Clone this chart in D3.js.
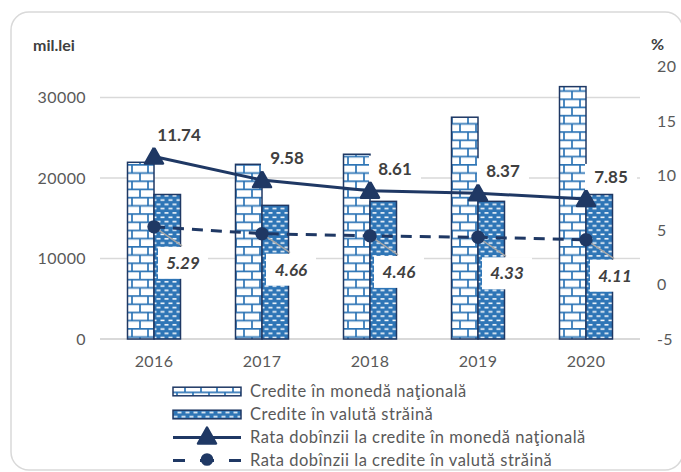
<!DOCTYPE html>
<html>
<head>
<meta charset="utf-8">
<script src="https://cdn.jsdelivr.net/npm/d3@7"></script>
<style>
  body { margin: 0; background: #fff; }
  svg { display: block; font-family: Lato, "Noto Sans", sans-serif; }
</style>
</head>
<body>
<svg width="681" height="472"></svg>
<script>
var years = ["2016", "2017", "2018", "2019", "2020"];
var crediteNational = [21950, 21700, 22950, 27550, 31350];
var crediteForeign = [17950, 16600, 17100, 17100, 17950];
var rateNational = [11.74, 9.58, 8.61, 8.37, 7.85];
var rateForeign = [5.29, 4.66, 4.46, 4.33, 4.11];
var leftTicks = [0, 10000, 20000, 30000];
var rightTicks = [-5, 0, 5, 10, 15, 20];
var legendLabels = [
  "Credite în monedă naţională",
  "Credite în valută străină",
  "Rata dobînzii la credite în monedă naţională",
  "Rata dobînzii la credite în valută străină"
];

var svg = d3.select("svg"),
    width = +svg.attr("width"),
    height = +svg.attr("height");

var navy = "#1f3864",
    blue = "#2e75b6",
    grid = "#d9d9d9",
    textCol = "#595959",
    labelCol = "#404040";

// patterns
var defs = svg.append("defs");
var brick = defs.append("pattern")
    .attr("id", "brick")
    .attr("patternUnits", "userSpaceOnUse")
    .attr("width", 16).attr("height", 16.4);
brick.append("rect").attr("width", 16).attr("height", 16.4).attr("fill", "#fff");
brick.append("path")
    .attr("d", "M0,0.8H16M0,9H16M4,0.8V9M12,9V17.2")
    .attr("stroke", blue).attr("stroke-width", 1.7);

var dots = defs.append("pattern")
    .attr("id", "dots")
    .attr("patternUnits", "userSpaceOnUse")
    .attr("width", 8).attr("height", 8.6);
dots.append("rect").attr("width", 8).attr("height", 8.6).attr("fill", blue);
dots.append("rect").attr("x", 0.5).attr("y", 1.5).attr("width", 4).attr("height", 1.5).attr("fill", "#fff");
dots.append("rect").attr("x", 4.5).attr("y", 5.8).attr("width", 3.5).attr("height", 1.5).attr("fill", "#fff");
dots.append("rect").attr("x", 0).attr("y", 5.8).attr("width", 0.5).attr("height", 1.5).attr("fill", "#fff");

// frame
svg.append("rect")
    .attr("x", 11).attr("y", 12)
    .attr("width", 672).attr("height", 458)
    .attr("rx", 18)
    .attr("fill", "#fff")
    .attr("stroke", grid).attr("stroke-width", 1.5);

var x = d3.scaleBand().domain(years).range([100, 640]);
var yL = d3.scaleLinear().domain([0, 30000]).range([339, 97.5]);
var yR = d3.scaleLinear().domain([-5, 20]).range([339, 66.5]);
var barW = 26.5;

// gridlines
svg.append("g").selectAll("line")
  .data(leftTicks)
  .enter().append("line")
    .attr("x1", 100).attr("x2", 640)
    .attr("y1", function(d) { return yL(d); })
    .attr("y2", function(d) { return yL(d); })
    .attr("stroke", grid)
    .attr("stroke-width", function(d) { return d == 0 ? 2 : 1.5; });

function styleTicks(ax) {
  ax.select(".domain").remove();
  ax.selectAll("text").attr("fill", textCol)
    .style("font-size", "16px").style("font-family", "Lato").style("letter-spacing", "0.4px");
}

// left axis
var axL = svg.append("g")
    .attr("transform", "translate(86,0)")
    .call(d3.axisLeft(yL).tickValues(leftTicks).tickSize(0).tickPadding(0).tickFormat(d3.format("d")));
styleTicks(axL);

// right axis
var axR = svg.append("g")
    .attr("transform", "translate(657,0)")
    .call(d3.axisRight(yR).tickValues(rightTicks).tickSize(0).tickPadding(0));
styleTicks(axR);
axR.selectAll("text").text(function(d) { return d < 0 ? "-" + Math.abs(d) : d; });

// x axis
var axX = svg.append("g")
    .attr("transform", "translate(0,356)")
    .call(d3.axisBottom(x).tickSize(0).tickPadding(0));
styleTicks(axX);

// unit titles
svg.append("text").attr("x", 33).attr("y", 51)
    .attr("fill", labelCol).style("font-size", "16px").style("font-weight", "bold")
    .text("mil.lei");
svg.append("text").attr("x", 651).attr("y", 50)
    .attr("fill", labelCol).style("font-size", "16px").style("font-weight", "bold")
    .text("%");

// bars
svg.append("g").selectAll("rect")
  .data(crediteNational)
  .enter().append("rect")
    .attr("x", function(d, i) { return x(years[i]) + x.bandwidth() / 2 - barW; })
    .attr("y", function(d) { return yL(d); })
    .attr("width", barW)
    .attr("height", function(d) { return yL(0) - yL(d); })
    .attr("fill", "url(#brick)")
    .attr("stroke", navy).attr("stroke-width", 1.5);

svg.append("g").selectAll("rect")
  .data(crediteForeign)
  .enter().append("rect")
    .attr("x", function(d, i) { return x(years[i]) + x.bandwidth() / 2; })
    .attr("y", function(d) { return yL(d); })
    .attr("width", barW)
    .attr("height", function(d) { return yL(0) - yL(d); })
    .attr("fill", "url(#dots)")
    .attr("stroke", navy).attr("stroke-width", 1.5);

var cx = function(d, i) { return x(years[i]) + x.bandwidth() / 2; };
var line = d3.line()
    .x(function(d, i) { return x(years[i]) + x.bandwidth() / 2; })
    .y(function(d) { return yR(d); });

// lines
svg.append("path").datum(rateNational)
    .attr("d", line).attr("fill", "none")
    .attr("stroke", navy).attr("stroke-width", 3);
svg.append("path").datum(rateForeign)
    .attr("d", line).attr("fill", "none")
    .attr("stroke", navy).attr("stroke-width", 3)
    .attr("stroke-dasharray", "11,8");

var tri = "M0,-9 L9,7 L-9,7 Z";

// leader lines for foreign labels
svg.append("g").selectAll("line")
  .data(rateForeign)
  .enter().append("line")
    .attr("x1", cx)
    .attr("y1", function(d) { return yR(d); })
    .attr("x2", function(d, i) { return cx(d, i) + 28; })
    .attr("y2", function(d) { return yR(d) + 19; })
    .attr("stroke", "#a6a6a6").attr("stroke-width", 1.5);

// markers
svg.append("g").selectAll("path")
  .data(rateNational)
  .enter().append("path")
    .attr("d", tri)
    .attr("transform", function(d, i) { return "translate(" + cx(d, i) + "," + yR(d) + ")"; })
    .attr("fill", navy).attr("stroke", navy)
    .attr("stroke-width", 2.5).attr("stroke-linejoin", "round");

svg.append("g").selectAll("circle")
  .data(rateForeign)
  .enter().append("circle")
    .attr("cx", cx)
    .attr("cy", function(d) { return yR(d); })
    .attr("r", 6.7)
    .attr("fill", navy);

// labels national rate
var lblN = svg.append("g").selectAll("g")
  .data(rateNational)
  .enter().append("g")
    .attr("transform", function(d, i) { return "translate(" + (cx(d, i) + 25) + "," + (yR(d) - 22) + ")"; });
lblN.append("rect").attr("x", -26).attr("y", -13).attr("width", 52).attr("height", 26).attr("fill", "#fff");
lblN.append("text")
    .attr("text-anchor", "middle").attr("dy", "0.36em")
    .attr("fill", labelCol)
    .style("font-size", "17px").style("font-weight", "bold")
    .text(function(d) { return d.toFixed(2); });

// labels foreign rate
var lblF = svg.append("g").selectAll("g")
  .data(rateForeign)
  .enter().append("g")
    .attr("transform", function(d, i) { return "translate(" + (cx(d, i) + 29) + "," + (yR(d) + 36) + ")"; });
lblF.append("rect").attr("x", -25).attr("y", -16).attr("width", 50).attr("height", 32).attr("fill", "#fff");
lblF.append("text")
    .attr("text-anchor", "middle").attr("dy", "0.36em")
    .attr("fill", labelCol)
    .style("font-size", "17px").style("font-weight", "bold").style("font-style", "italic")
    .text(function(d) { return d.toFixed(2); });

// legend
var leg = svg.append("g").selectAll("g")
  .data(legendLabels)
  .enter().append("g")
    .attr("transform", function(d, i) { return "translate(173," + (391.5 + i * 23) + ")"; });

leg.filter(function(d, i) { return i < 2; }).append("rect")
    .attr("x", 0).attr("y", -4.3).attr("width", 68).attr("height", 8.6)
    .attr("fill", function(d, i) { return i == 0 ? "url(#brick)" : "url(#dots)"; })
    .attr("stroke", navy).attr("stroke-width", 1.5);

leg.filter(function(d, i) { return i == 2; }).each(function() {
  var g = d3.select(this);
  g.append("line").attr("x1", 0).attr("x2", 68).attr("y1", 0).attr("y2", 0)
    .attr("stroke", navy).attr("stroke-width", 3);
  g.append("path").attr("d", tri).attr("transform", "translate(34,-1)")
    .attr("fill", navy).attr("stroke", navy).attr("stroke-width", 2.5).attr("stroke-linejoin", "round");
});
leg.filter(function(d, i) { return i == 3; }).each(function() {
  var g = d3.select(this);
  g.append("line").attr("x1", 0).attr("x2", 68).attr("y1", 0).attr("y2", 0)
    .attr("stroke", navy).attr("stroke-width", 3).attr("stroke-dasharray", "12,15,14,15,12");
  g.append("circle").attr("cx", 34).attr("cy", -1).attr("r", 6.3).attr("fill", navy);
});

leg.append("text")
    .attr("x", 77).attr("dy", "0.36em")
    .attr("fill", textCol)
    .style("font-size", "16.5px").style("letter-spacing", "0.5px")
    .text(function(d) { return d; });
</script>
</body>
</html>
